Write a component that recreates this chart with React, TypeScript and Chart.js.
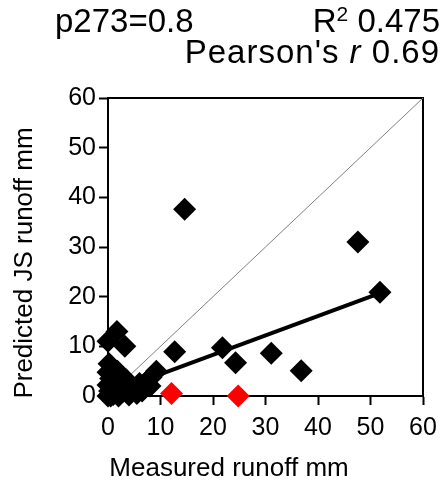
import { useEffect, useRef } from 'react';
import { Chart, registerables } from 'chart.js';

Chart.register(...registerables);

const FONT = "'Liberation Sans', Arial, sans-serif";

// Measured vs predicted runoff (mm), ordinary events
const measuredBlack = [
  0, 0.3, 0, 0.5, 0, 0.2, 1, 1.5, 2, 2.5, 1.2, 3, 3.5, 4, 4.5, 5.5, 6, 7, 8.2, 9.2,
  0.8, 2, 1, 3, 5, 6.5, 2.5, 8, 0.5, 1.8,
  0, 1.7, 3.2, 12.7, 14.6, 21.8, 24.3, 31.1, 36.8, 47.6, 51.8,
];
const predictedBlack = [
  0, 1, 2.2, 3.5, 4.8, 6.5, 0.3, 1.8, 0, 2.8, 4, 1, 3.2, 0.2, 2, 0.5, 2.5, 2.5, 3.8, 5,
  5.5, 3.5, 2.5, 2, 1.5, 1, 0.8, 2, 0, 5,
  11, 13, 10, 8.9, 37.6, 9.7, 6.7, 8.6, 5.1, 31, 20.9,
];

// Highlighted events
const measuredRed = [12.1, 24.8];
const predictedRed = [0.5, 0];

// Least-squares fit line
const fitSlope = 0.39;
const fitIntercept = 0.5;
const fitFrom = 0;
const fitTo = 51.8;

// Axis range
const axisMin = 0;
const axisMax = 60;
const axisStep = 10;

const statLabel = 'p273=0.8';
const r2Value = '0.475';
const pearsonValue = '0.69';
const xTitle = 'Measured runoff mm';
const yTitle = 'Predicted JS runoff mm';

const toPoints = (xs: number[], ys: number[]) => xs.map((x, i) => ({ x, y: ys[i] }));

const framePlugin = {
  id: 'frame',
  beforeDatasetsDraw(chart: any) {
    const { ctx, chartArea: a } = chart;
    ctx.save();
    ctx.strokeStyle = '#000';
    ctx.lineWidth = 2;
    ctx.beginPath();
    ctx.moveTo(a.left - 1, a.top);
    ctx.lineTo(a.right, a.top);
    ctx.lineTo(a.right, a.bottom + 1);
    ctx.stroke();
    ctx.restore();
  },
};

const textPlugin = {
  id: 'texts',
  afterDraw(chart: any) {
    const { ctx } = chart;
    ctx.save();
    ctx.fillStyle = '#000';
    ctx.textBaseline = 'alphabetic';

    // Header statistics
    ctx.font = `33px ${FONT}`;
    ctx.textAlign = 'left';
    ctx.fillText(statLabel, 55, 32);

    const right = 440;
    // R² line
    ctx.font = `33px ${FONT}`;
    const valTxt = ' ' + r2Value;
    const wVal = ctx.measureText(valTxt).width;
    const wR = ctx.measureText('R').width;
    ctx.font = `21px ${FONT}`;
    const wSup = ctx.measureText('2').width;
    let x = right - wVal - wSup - wR;
    ctx.font = `33px ${FONT}`;
    ctx.fillText('R', x, 32);
    x += wR;
    ctx.font = `21px ${FONT}`;
    ctx.fillText('2', x, 21);
    x += wSup;
    ctx.font = `33px ${FONT}`;
    ctx.fillText(valTxt, x, 32);

    // Pearson's r line
    ctx.font = `33px ${FONT}`;
    (ctx as any).letterSpacing = '1px';
    const p1 = "Pearson's ";
    const p3 = ' ' + pearsonValue;
    const w1 = ctx.measureText(p1).width;
    const w3 = ctx.measureText(p3).width;
    ctx.font = `italic 33px ${FONT}`;
    const w2 = ctx.measureText('r').width;
    x = right - w1 - w2 - w3;
    ctx.font = `33px ${FONT}`;
    ctx.fillText(p1, x, 63);
    ctx.font = `italic 33px ${FONT}`;
    ctx.fillText('r', x + w1, 63);
    ctx.font = `33px ${FONT}`;
    ctx.fillText(p3, x + w1 + w2, 63);
    (ctx as any).letterSpacing = '0px';

    // Axis titles
    ctx.font = `26px ${FONT}`;
    ctx.textAlign = 'center';
    ctx.fillText(xTitle, 229, 476);
    ctx.translate(32, 263);
    ctx.rotate(-Math.PI / 2);
    ctx.fillText(yTitle, 0, 0);
    ctx.restore();
  },
};

function axis(pad: number, extra: any) {
  return {
    type: 'linear',
    min: axisMin,
    max: axisMax,
    ticks: {
      stepSize: axisStep,
      color: '#000',
      font: { size: 25, family: FONT },
      padding: pad,
    },
    grid: {
      display: true,
      drawOnChartArea: false,
      drawTicks: true,
      tickLength: 9,
      tickWidth: 2,
      tickColor: '#000',
    },
    border: { display: true, color: '#000', width: 2 },
    ...extra,
  };
}

export default function App() {
  const ref = useRef<HTMLCanvasElement>(null);

  useEffect(() => {
    if (!ref.current) return;
    const chart = new Chart(ref.current, {
      type: 'scatter',
      data: {
        datasets: [
          {
            data: toPoints(measuredRed, predictedRed),
            backgroundColor: '#ff0000',
            pointStyle: 'rectRot',
            pointRadius: 11.5,
            pointBorderWidth: 0,
            borderWidth: 0,
            clip: false,
            order: 0,
          },
          {
            data: [
              { x: fitFrom, y: fitIntercept + fitSlope * fitFrom },
              { x: fitTo, y: fitIntercept + fitSlope * fitTo },
            ],
            showLine: true,
            borderColor: '#000',
            borderWidth: 4,
            pointRadius: 0,
            clip: false,
            order: 1,
          },
          {
            data: toPoints(measuredBlack, predictedBlack),
            backgroundColor: '#000',
            pointStyle: 'rectRot',
            pointRadius: 11.5,
            pointBorderWidth: 0,
            borderWidth: 0,
            clip: false,
            order: 2,
          },
          {
            data: [
              { x: axisMin, y: axisMin },
              { x: axisMax, y: axisMax },
            ],
            showLine: true,
            borderColor: '#808080',
            borderWidth: 1,
            pointRadius: 0,
            order: 3,
          },
        ],
      } as any,
      options: {
        animation: false,
        responsive: false,
        maintainAspectRatio: false,
        layout: { padding: { top: 98, right: 19, left: 0, bottom: 0 } },
        plugins: { legend: { display: false }, tooltip: { enabled: false } },
        scales: {
          x: axis(8, {
            afterFit: (s: any) => {
              s.height = 87;
              s.paddingLeft = 0;
              s.paddingRight = 0;
            },
          }),
          y: axis(3, {
            afterFit: (s: any) => {
              s.width = 108;
              s.paddingTop = 0;
              s.paddingBottom = 0;
            },
          }),
        } as any,
      },
      plugins: [framePlugin, textPlugin],
    });
    return () => chart.destroy();
  }, []);

  return (
    <div style={{ position: 'fixed', left: 0, top: 0, width: 442, height: 483, background: '#fff' }}>
      <canvas ref={ref} width={442} height={483} style={{ display: 'block' }} />
    </div>
  );
}
